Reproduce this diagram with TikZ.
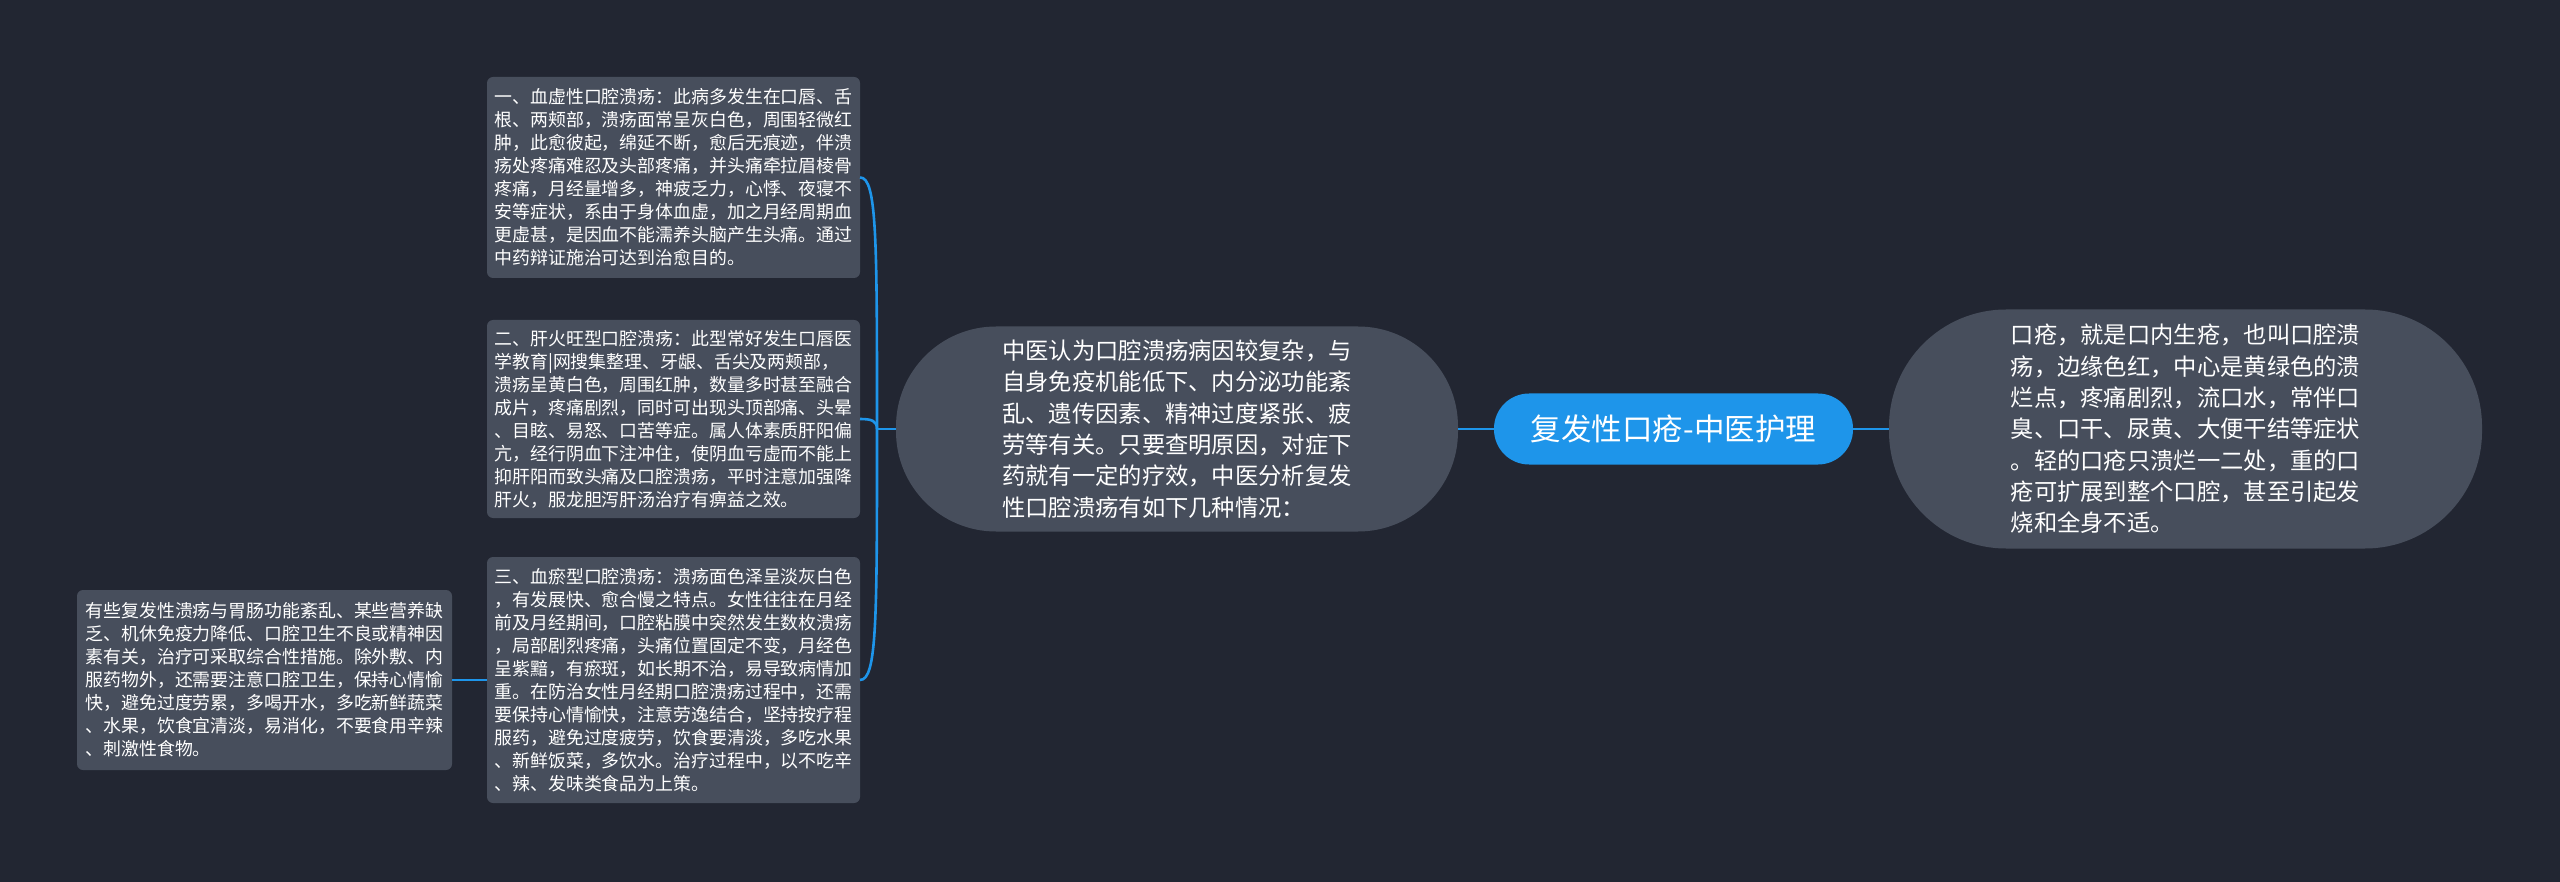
\documentclass[tikz,border=0pt]{standalone}
\usepackage{fontspec}
\newfontfamily\cjk{Noto Sans CJK SC}
\definecolor{bgdark}{HTML}{222632}
\definecolor{boxgray}{HTML}{474E5C}
\definecolor{linkblue}{HTML}{1E95EA}

\begin{document}
\begin{tikzpicture}[x=1pt, y=-1pt]
\tikzset{ inner sep=0pt, outer sep=0pt,
  topic/.style={fill=boxgray, text=white, align=left, rounded corners=6pt,
    font=\cjk\fontsize{17.9}{23}\selectfont, minimum width=373pt},
  pill/.style={fill=boxgray, text=white, align=left,
    font=\cjk\fontsize{23.3}{31.3}\selectfont},
  link/.style={draw=linkblue, line width=2.6pt},
}
%\draw [gray, dashed] (0,0) grid [step=100] (2560,882);

\fill [bgdark] (0,0) rectangle (2560,882);

\node [topic, minimum height=201pt] (B1) at (673.5,177.5) {%
一、血虚性口腔溃疡：此病多发生在口唇、舌\\
根、两颊部，溃疡面常呈灰白色，周围轻微红\\
肿，此愈彼起，绵延不断，愈后无痕迹，伴溃\\
疡处疼痛难忍及头部疼痛，并头痛牵拉眉棱骨\\
疼痛，月经量增多，神疲乏力，心悸、夜寝不\\
安等症状，系由于身体血虚，加之月经周期血\\
更虚甚，是因血不能濡养头脑产生头痛。通过\\
中药辩证施治可达到治愈目的。};

\node [topic, minimum height=198pt] (B2) at (673.5,419) {%
二、肝火旺型口腔溃疡：此型常好发生口唇医\\
学教育|网搜集整理、牙龈、舌尖及两颊部，\\
溃疡呈黄白色，周围红肿，数量多时甚至融合\\
成片，疼痛剧烈，同时可出现头顶部痛、头晕\\
、目眩、易怒、口苦等症。属人体素质肝阳偏\\
亢，经行阴血下注冲住，使阴血亏虚而不能上\\
抑肝阳而致头痛及口腔溃疡，平时注意加强降\\
肝火，服龙胆泻肝汤治疗有痹益之效。};

\node [topic, minimum height=246pt] (B3) at (673.5,680) {%
三、血瘀型口腔溃疡：溃疡面色泽呈淡灰白色\\
，有发展快、愈合慢之特点。女性往往在月经\\
前及月经期间，口腔粘膜中突然发生数枚溃疡\\
，局部剧烈疼痛，头痛位置固定不变，月经色\\
呈紫黯，有瘀斑，如长期不治，易导致病情加\\
重。在防治女性月经期口腔溃疡过程中，还需\\
要保持心情愉快，注意劳逸结合，坚持按疗程\\
服药，避免过度疲劳，饮食要清淡，多吃水果\\
、新鲜饭菜，多饮水。治疗过程中，以不吃辛\\
、辣、发味类食品为上策。};

\node [topic, minimum width=375pt, minimum height=180pt] (LF) at (264.5,680) {%
有些复发性溃疡与胃肠功能紊乱、某些营养缺\\
乏、机休免疫力降低、口腔卫生不良或精神因\\
素有关，治疗可采取综合性措施。除外敷、内\\
服药物外，还需要注意口腔卫生，保持心情愉\\
快，避免过度劳累，多喝开水，多吃新鲜蔬菜\\
、水果，饮食宜清淡，易消化，不要食用辛辣\\
、刺激性食物。};

\node [pill, rounded corners=100pt, minimum width=562pt, minimum height=205pt] (MID) at (1177,429) {%
中医认为口腔溃疡病因较复杂，与\\
自身免疫机能低下、内分泌功能紊\\
乱、遗传因素、精神过度紧张、疲\\
劳等有关。只要查明原因，对症下\\
药就有一定的疗效，中医分析复发\\
性口腔溃疡有如下几种情况：};

\node [fill=linkblue, text=white, rounded corners=35pt, minimum width=359pt, minimum height=71pt,
  font=\cjk\fontsize{30.5}{36}\selectfont] (ROOT) at (1673.5,429) {复发性口疮-中医护理};

\node [pill, rounded corners=117pt, minimum width=593pt, minimum height=239pt] (RT) at (2185.5,429) {%
口疮，就是口内生疮，也叫口腔溃\\
疡，边缘色红，中心是黄绿色的溃\\
烂点，疼痛剧烈，流口水，常伴口\\
臭、口干、尿黄、大便干结等症状\\
。轻的口疮只溃烂一二处，重的口\\
疮可扩展到整个口腔，甚至引起发\\
烧和全身不适。};

\coordinate (fork) at (877,429);

\draw [link] (ROOT.west) -- (MID.east);
\draw [link] (ROOT.east) -- (RT.west);
\draw [link] (MID.west) -- (fork);
\draw [link] (fork) .. controls (877,240) and (877,177) .. (B1.east);
\draw [link] (fork) .. controls (877,421) and (872,419) .. (B2.east);
\draw [link] (fork) .. controls (877,620) and (877,680) .. (B3.east);
\draw [link] (B3.west) -- (LF.east);

\end{tikzpicture}
\end{document}
